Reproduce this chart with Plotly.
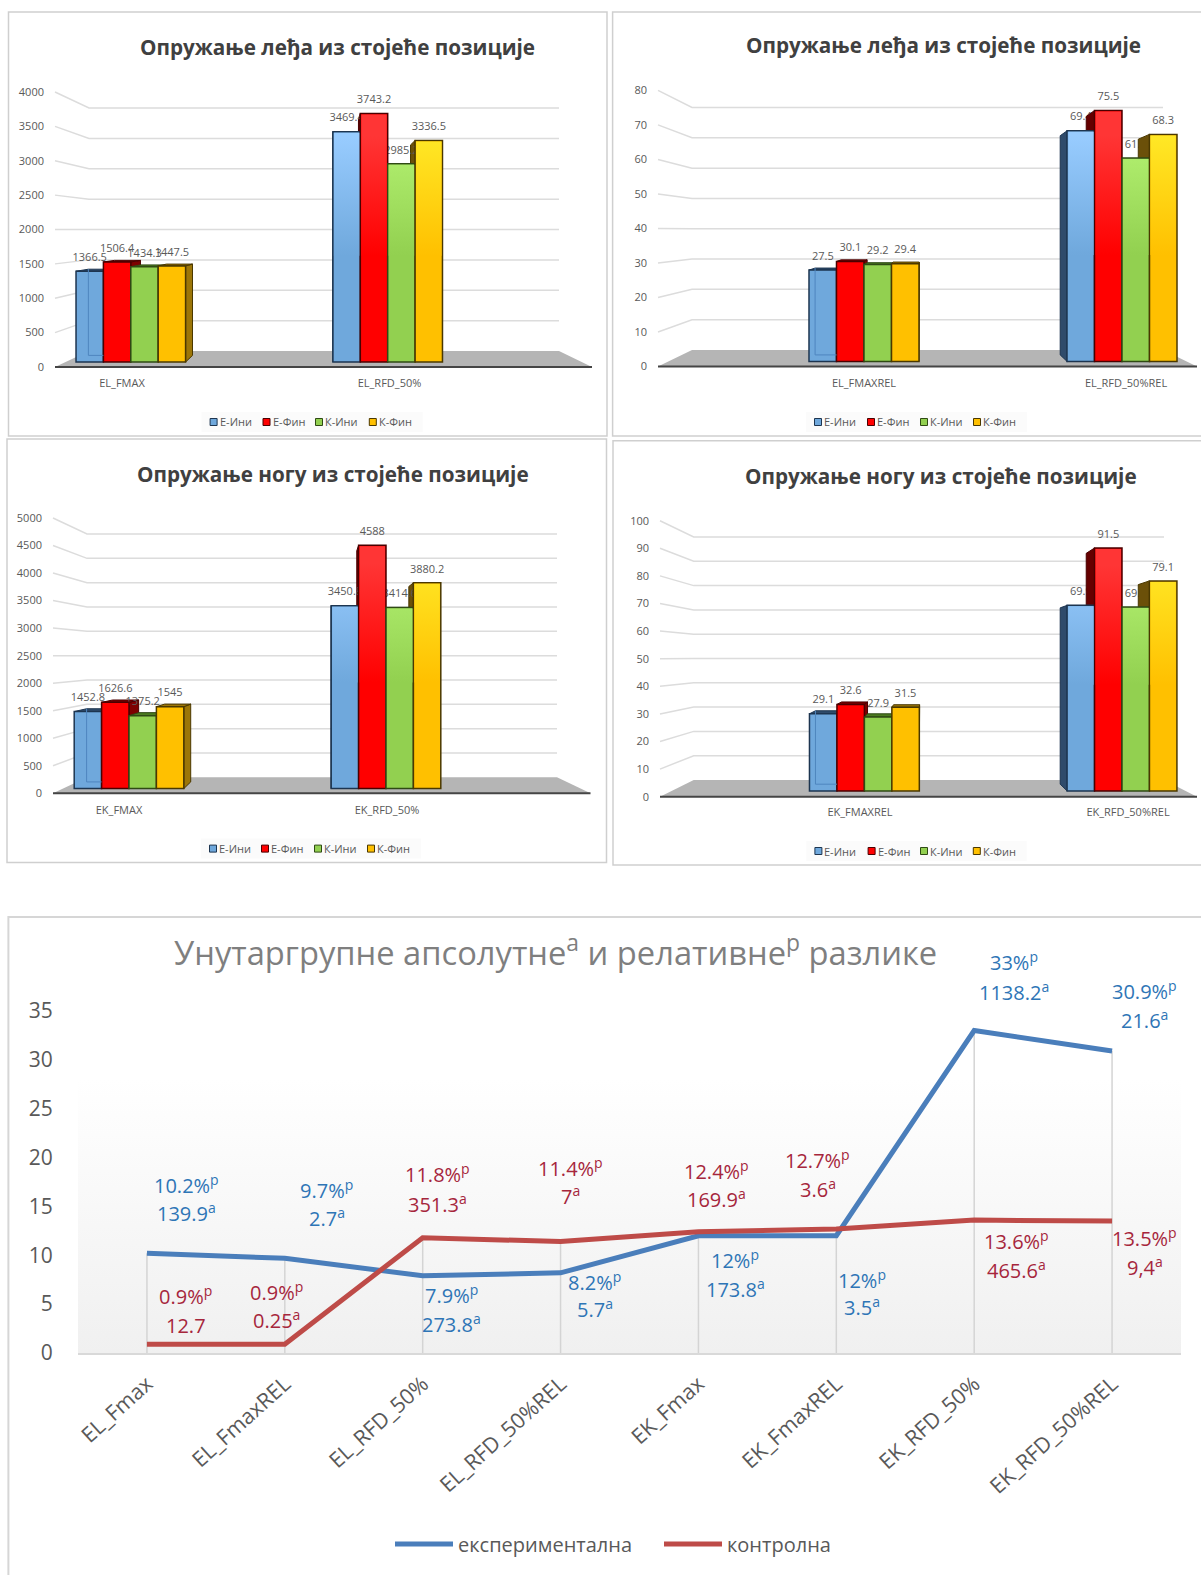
import plotly.graph_objects as go

W, H = 1201, 1575

# Series values of the four bar panels, one list per group, [Fmax, RFD_50%]
e_ini_back = [1366.5, 3469.4]
e_fin_back = [1506.4, 3743.2]
k_ini_back = [1434.3, 2985.2]
k_fin_back = [1447.5, 3336.5]

e_ini_back_rel = [27.5, 69.4]
e_fin_back_rel = [30.1, 75.5]
k_ini_back_rel = [29.2, 61.2]
k_fin_back_rel = [29.4, 68.3]

e_ini_leg = [1452.8, 3450.8]
e_fin_leg = [1626.6, 4588]
k_ini_leg = [1375.2, 3414.6]
k_fin_leg = [1545, 3880.2]

e_ini_leg_rel = [29.1, 69.9]
e_fin_leg_rel = [32.6, 91.5]
k_ini_leg_rel = [27.9, 69.3]
k_fin_leg_rel = [31.5, 79.1]

series_names = ["Е-Ини", "Е-Фин", "К-Ини", "К-Фин"]

# Line panel
line_categories = ["EL_Fmax", "EL_FmaxREL", "EL_RFD_50%", "EL_RFD_50%REL",
                   "EK_Fmax", "EK_FmaxREL", "EK_RFD_50%", "EK_RFD_50%REL"]
experimental = [10.2, 9.7, 7.9, 8.2, 12, 12, 33, 30.9]
control = [0.9, 0.9, 11.8, 11.4, 12.4, 12.7, 13.6, 13.5]
exp_rel_text = ["10.2%", "9.7%", "7.9%", "8.2%", "12%", "12%", "33%", "30.9%"]
exp_abs_text = ["139.9", "2.7", "273.8", "5.7", "173.8", "3.5", "1138.2", "21.6"]
ctl_rel_text = ["0.9%", "0.9%", "11.8%", "11.4%", "12.4%", "12.7%", "13.6%", "13.5%"]
ctl_abs_text = ["12.7", "0.25", "351.3", "7", "169.9", "3.6", "465.6", "9,4"]

# Face colours per series: front, bright front, right side, left side, outline
FRONT = ["#6fa8dc", "#ff0000", "#92d050", "#ffc000"]
BRIGHT = ["#98ccff", "#ff3535", "#b4f272", "#ffe826"]
SIDE_R = ["#2f4b6b", "#7d0000", "#4a7a20", "#9c7608"]
SIDE_L = ["#2f4b6b", "#650000", "#3f6a1a", "#6b5009"]
EDGE = ["#1d3550", "#4a0000", "#2f4a14", "#4a3800"]
TEXT = "#595959"
FONT = "Open Sans"

panels = [
    dict(series=[e_ini_back, e_fin_back, k_ini_back, k_fin_back],
         cats=["EL_FMAX", "EL_RFD_50%"], cat_px=[122, 389.5],
         title="Опружање леђа из стојеће позиције", title_px=(337, 46.7),
         L=55, R=592, BL=89, BR=559, y0f=367, ytf=92, y0b=351, ytb=108,
         ybase=362, ybt=96.4, c0=130.8, c1=387.7, vp=(323.5, 230),
         tmax=4000, step=500, sq=[213.6, 266.5, 319, 372.8], legy=422,
         box=(8.5, 12, 607, 436), labels_over_sides=True),
    dict(series=[e_ini_back_rel, e_fin_back_rel, k_ini_back_rel, k_fin_back_rel],
         cats=["EL_FMAXREL", "EL_RFD_50%REL"], cat_px=[864, 1126],
         title="Опружање леђа из стојеће позиције", title_px=(943, 45.2),
         L=658, R=1197, BL=692, BR=1163, y0f=366.5, ytf=90.4, y0b=350, ytb=107.5,
         ybase=361.5, ybt=95.5, c0=864, c1=1122, vp=(927, 230),
         tmax=80, step=10, sq=[818, 871, 924, 977], legy=422,
         box=(612.6, 12, 1215, 436), labels_over_sides=False),
    dict(series=[e_ini_leg, e_fin_leg, k_ini_leg, k_fin_leg],
         cats=["EK_FMAX", "EK_RFD_50%"], cat_px=[119, 387],
         title="Опружање ногу из стојеће позиције", title_px=(333.4, 474),
         L=53, R=590.5, BL=87, BR=557, y0f=793.3, ytf=518, y0b=777.3, ytb=534,
         ybase=788.6, ybt=523.5, c0=129, c1=386, vp=(322, 655),
         tmax=5000, step=500, sq=[213, 265, 318, 371], legy=848.6,
         box=(7, 439, 606.5, 862.5), labels_over_sides=True),
    dict(series=[e_ini_leg_rel, e_fin_leg_rel, k_ini_leg_rel, k_fin_leg_rel],
         cats=["EK_FMAXREL", "EK_RFD_50%REL"], cat_px=[860, 1128],
         title="Опружање ногу из стојеће позиције", title_px=(940.6, 475.7),
         L=660, R=1197, BL=693.7, BR=1164, y0f=796.7, ytf=520.7, y0b=780, ytb=537,
         ybase=791, ybt=525.4, c0=864.4, c1=1122, vp=(927, 655),
         tmax=100, step=10, sq=[818.4, 871.6, 924, 976.8], legy=851,
         box=(613, 440.7, 1215, 865), labels_over_sides=False),
]

BAR_PX = 27.4
DEPTH = 0.95
LABEL_GAP = 13

fig = go.Figure()
shapes, annotations, axes = [], [], {}


def px(x, y):
    return x / W, 1 - y / H


def note(text, x, y, size, color, xanchor="center"):
    annotations.append(dict(text=text, x=x / W, y=1 - y / H, xref="paper", yref="paper",
                            xanchor=xanchor, yanchor="middle", showarrow=False, borderpad=0,
                            font=dict(family=FONT, size=size, color=color)))


def axis_keys(n):
    suffix = "" if n == 1 else str(n)
    return f"xaxis{suffix}", f"yaxis{suffix}", f"x{suffix}", f"y{suffix}"


def add_bar_panel(p, n):
    xk, yk, xr, yr = axis_keys(n)
    xk2, yk2, xr2, yr2 = axis_keys(n + 1)

    spacing = p["c1"] - p["c0"]
    scale = (p["ybase"] - p["ybt"]) / p["tmax"]
    ux = lambda v: (v - p["c0"]) / spacing
    uy = lambda v: (p["ybase"] - v) / scale
    vx, vy = p["vp"]
    back = lambda x, y: (vx + (x - vx) * DEPTH, vy + (y - vy) * DEPTH)

    X0, X1 = p["L"] - 10, min(p["R"] + 3, W - 1)
    YB, YT = p["ybase"] + 13, p["ytf"] - 12
    dom_x = [X0 / W, X1 / W]
    dom_y = [1 - YB / H, 1 - YT / H]
    xr_vals = [ux(X0), ux(X1)]
    yr_vals = [uy(YB), uy(YT)]

    shapes.append(dict(type="rect", xref="paper", yref="paper", layer="below",
                       x0=px(p["box"][0], 0)[0], x1=px(p["box"][2], 0)[0],
                       y0=px(0, p["box"][3])[1], y1=px(0, p["box"][1])[1],
                       line=dict(color="#cfcfcf", width=1.5), fillcolor="white"))

    ticks = list(range(0, p["tmax"] + 1, p["step"]))
    front_y = lambda t: p["y0f"] - t / p["tmax"] * (p["y0f"] - p["ytf"])
    back_y = lambda t: p["y0b"] - t / p["tmax"] * (p["y0b"] - p["ytb"])

    axes[xk] = dict(domain=dom_x, range=xr_vals, anchor=yr, showgrid=False, zeroline=False,
                    showline=False, ticks="", tickmode="array",
                    tickvals=[ux(c) for c in p["cat_px"]], ticktext=p["cats"],
                    tickfont=dict(family=FONT, size=11, color=TEXT))
    axes[yk] = dict(domain=dom_y, range=yr_vals, anchor=xr, showgrid=False, zeroline=False,
                    showline=False, ticks="", tickmode="array",
                    tickvals=[uy(front_y(t)) for t in ticks], ticktext=[str(t) for t in ticks],
                    tickfont=dict(family=FONT, size=11, color=TEXT))
    axes[xk2] = dict(overlaying=xr, range=xr_vals, anchor=yr2, visible=False)
    axes[yk2] = dict(overlaying=yr, range=yr_vals, anchor=xr2, visible=False)

    # Back wall gridlines with their slanted run along the side wall
    gx, gy = [], []
    for t in ticks[1:]:
        gx += [ux(p["L"]), ux(p["BL"]), ux(p["BR"]), None]
        gy += [uy(front_y(t)), uy(back_y(t)), uy(back_y(t)), None]
    fig.add_trace(go.Scatter(x=gx, y=gy, mode="lines", xaxis=xr, yaxis=yr, showlegend=False,
                             hoverinfo="skip", line=dict(color="#dcdcdc", width=1.5)))

    # Floor and front edge of the floor
    fig.add_trace(go.Scatter(
        x=[ux(p["L"]), ux(p["BL"]), ux(p["BR"]), ux(p["R"]), ux(p["L"])],
        y=[uy(p["y0f"]), uy(p["y0b"]), uy(p["y0b"]), uy(p["y0f"]), uy(p["y0f"])],
        mode="lines", fill="toself", fillcolor="#b5b5b5", line=dict(width=0),
        xaxis=xr, yaxis=yr, showlegend=False, hoverinfo="skip"))
    fig.add_trace(go.Scatter(x=[ux(p["L"]), ux(p["R"])], y=[uy(p["y0f"])] * 2, mode="lines",
                             line=dict(color="#454545", width=2), xaxis=xr, yaxis=yr,
                             showlegend=False, hoverinfo="skip"))

    def add_labels():
        for i, vals in enumerate(p["series"]):
            xs = [k + (i - 1.5) * BAR_PX / spacing for k in range(2)]
            ys = [v + LABEL_GAP / scale for v in vals]
            fig.add_trace(go.Scatter(x=xs, y=ys, mode="text", text=[f"{v:g}" for v in vals],
                                     textposition="middle center", cliponaxis=False,
                                     textfont=dict(family=FONT, size=11, color=TEXT),
                                     xaxis=xr, yaxis=yr, showlegend=False, hoverinfo="skip"))

    def add_faces():
        for i, vals in enumerate(p["series"]):
            for k, v in enumerate(vals):
                xc = p["c0"] + k * spacing + (i - 1.5) * BAR_PX
                xl, xr_px = xc - BAR_PX / 2, xc + BAR_PX / 2
                ytop = p["ybase"] - v * scale
                polys = []
                edge = xr_px if xr_px < vx else xl if xl > vx else None
                tone = SIDE_R[i] if xr_px < vx else SIDE_L[i]
                if edge is not None:
                    polys.append([(edge, p["ybase"]), (edge, ytop),
                                  back(edge, ytop), back(edge, p["ybase"])])
                if ytop > vy:
                    polys.append([(xl, ytop), (xr_px, ytop), back(xr_px, ytop), back(xl, ytop)])
                for poly in polys:
                    poly = poly + poly[:1]
                    fig.add_trace(go.Scatter(
                        x=[ux(a) for a, _ in poly], y=[uy(b) for _, b in poly],
                        mode="lines", fill="toself", fillcolor=tone,
                        line=dict(color=EDGE[i], width=1), xaxis=xr, yaxis=yr,
                        showlegend=False, hoverinfo="skip"))

    if p["labels_over_sides"]:
        add_faces()
        add_labels()
    else:
        add_labels()
        add_faces()

    # Front faces
    for i, vals in enumerate(p["series"]):
        fig.add_trace(go.Bar(x=[0, 1], y=vals, name=series_names[i], xaxis=xr2, yaxis=yr2,
                             marker=dict(color=FRONT[i], line=dict(color=EDGE[i], width=1.5)),
                             showlegend=False))

    # Brightening towards the top of the tall bars
    half = BAR_PX / 2 - 1
    low, high = 0.4 * p["tmax"], 0.85 * p["tmax"]
    for i, vals in enumerate(p["series"]):
        for k, v in enumerate(vals):
            if v <= low:
                continue
            xc = p["c0"] + k * spacing + (i - 1.5) * BAR_PX
            top = v - 1 / scale
            fig.add_trace(go.Scatter(
                x=[ux(xc - half), ux(xc + half), ux(xc + half), ux(xc - half), ux(xc - half)],
                y=[low, low, top, top, low], mode="lines", line=dict(width=0), fill="toself",
                fillgradient=dict(type="vertical", start=low, stop=high,
                                  colorscale=[[0, FRONT[i]], [1, BRIGHT[i]]]),
                xaxis=xr2, yaxis=yr2, showlegend=False, hoverinfo="skip"))

    # Hidden edges seen through the translucent first series of the near group
    v = p["series"][0][0]
    xc = p["c0"] - 1.5 * BAR_PX
    xl, xrp = xc - BAR_PX / 2, xc + BAR_PX / 2
    ytop = p["ybase"] - v * scale
    a, b = back(xl, ytop), back(xl, p["ybase"])
    fig.add_trace(go.Scatter(x=[ux(a[0]), ux(b[0]), ux(xrp)],
                             y=[uy(a[1]), uy(b[1]), uy(b[1])], mode="lines",
                             line=dict(color="#4f86bf", width=1), xaxis=xr2, yaxis=yr2,
                             showlegend=False, hoverinfo="skip"))

    # Title and key
    note(f"<b>{p['title']}</b>", p["title_px"][0], p["title_px"][1], 20.7, "#404040")
    s0, s1 = p["sq"][0] - 12, p["sq"][-1] + 50
    shapes.append(dict(type="rect", xref="paper", yref="paper", layer="below",
                       x0=s0 / W, x1=s1 / W, y0=1 - (p["legy"] + 10) / H, y1=1 - (p["legy"] - 10) / H,
                       line=dict(width=0), fillcolor="#fbfbfb"))
    for i, sx in enumerate(p["sq"]):
        shapes.append(dict(type="rect", xref="paper", yref="paper",
                           x0=(sx - 3.5) / W, x1=(sx + 3.5) / W,
                           y0=1 - (p["legy"] + 3.5) / H, y1=1 - (p["legy"] - 3.5) / H,
                           line=dict(color=EDGE[i], width=1), fillcolor=FRONT[i]))
        note(series_names[i], sx + 5, p["legy"], 11, TEXT, xanchor="left")


for idx, panel in enumerate(panels):
    add_bar_panel(panel, 2 * idx + 1)

# Line panel
xk, yk, xr, yr = axis_keys(9)
shapes.append(dict(type="rect", xref="paper", yref="paper", layer="below",
                   x0=8.4 / W, x1=1215 / W, y0=-0.02, y1=1 - 917 / H,
                   line=dict(color="#d6d6d6", width=2), fillcolor="white"))
axes[xk] = dict(domain=[78 / W, 1181 / W], range=[-0.5, 7.5], anchor=yr, showgrid=False,
                zeroline=False, showline=True, linecolor="#d9d9d9", linewidth=2, ticks="",
                tickmode="array", tickvals=list(range(8)), ticktext=line_categories, tickangle=-42,
                ticklabelstandoff=8, tickfont=dict(family=FONT, size=21.5, color=TEXT))
axes[yk] = dict(domain=[1 - 1353 / H, 1 - 1011 / H], range=[0, 35], anchor=xr, showgrid=False,
                zeroline=False, showline=False, ticks="outside", ticklen=20,
                tickcolor="rgba(0,0,0,0)", tickmode="array", tickvals=list(range(0, 36, 5)),
                tickfont=dict(family=FONT, size=21, color=TEXT))

fig.add_trace(go.Scatter(x=[-0.5, 7.5, 7.5, -0.5, -0.5], y=[0, 0, 28, 28, 0], mode="lines",
                         line=dict(width=0), fill="toself", xaxis=xr, yaxis=yr,
                         fillgradient=dict(type="vertical", start=0, stop=28,
                                           colorscale=[[0, "#f0f0f0"], [1, "#ffffff"]]),
                         showlegend=False, hoverinfo="skip"))
drop_x, drop_y = [], []
for i, (a, b) in enumerate(zip(experimental, control)):
    drop_x += [i, i, None]
    drop_y += [0, max(a, b), None]
fig.add_trace(go.Scatter(x=drop_x, y=drop_y, mode="lines", line=dict(color="#d4d4d4", width=1.5),
                         xaxis=xr, yaxis=yr, showlegend=False, hoverinfo="skip"))
fig.add_trace(go.Scatter(x=list(range(8)), y=experimental, mode="lines", name="експериментална",
                         line=dict(color="#4a7ebb", width=5), xaxis=xr, yaxis=yr))
fig.add_trace(go.Scatter(x=list(range(8)), y=control, mode="lines", name="контролна",
                         line=dict(color="#be4b48", width=5), xaxis=xr, yaxis=yr))

BLUE_TXT, RED_TXT = "#2e75b6", "#a6263c"
exp_pos = [(186.5, 1184.5, 1212.5), (326.5, 1189, 1217.5), (451, 1294.5, 1323.5),
           (594.5, 1281.5, 1308.5), (735, 1259, 1288), (861.5, 1279, 1306.5),
           (1014, 961.5, 991.5), (1144.5, 990.5, 1019.5)]
ctl_pos = [(185.5, 1295, 1325.5), (276.5, 1291, 1319), (437, 1173.5, 1203),
           (570, 1167, 1195.5), (716, 1170.5, 1198.5), (817.5, 1159.5, 1188),
           (1016, 1240.5, 1269.5), (1144.5, 1237, 1266.5)]
for color, rel, abso, pos in [(BLUE_TXT, exp_rel_text, exp_abs_text, exp_pos),
                              (RED_TXT, ctl_rel_text, ctl_abs_text, ctl_pos)]:
    for r, a, (x, y1, y2) in zip(rel, abso, pos):
        a_txt = a if a == "12.7" else f"{a}<sup>a</sup>"
        note(f"{r}<sup>p</sup>", x, y1, 20, color)
        note(a_txt, x, y2, 20, color)

note("Унутаргрупне апсолутне<sup>a</sup> и релативне<sup>p</sup> разлике", 555, 951, 32.7, "#7f7f7f")

fig.update_layout(
    width=W, height=H, autosize=False,
    margin=dict(l=0, r=0, t=0, b=0, autoexpand=False),
    paper_bgcolor="white", plot_bgcolor="rgba(0,0,0,0)",
    barmode="group", bargap=1 - 4 * BAR_PX / 257, bargroupgap=0,
    shapes=shapes, annotations=annotations,
    legend=dict(orientation="h", x=390 / W, y=1 - 1544 / H, xanchor="left", yanchor="middle",
                itemwidth=58, entrywidth=196, entrywidthmode="pixels", bgcolor="rgba(0,0,0,0)",
                font=dict(family=FONT, size=20, color=TEXT)),
    **axes,
)

fig.write_html("out.html")
